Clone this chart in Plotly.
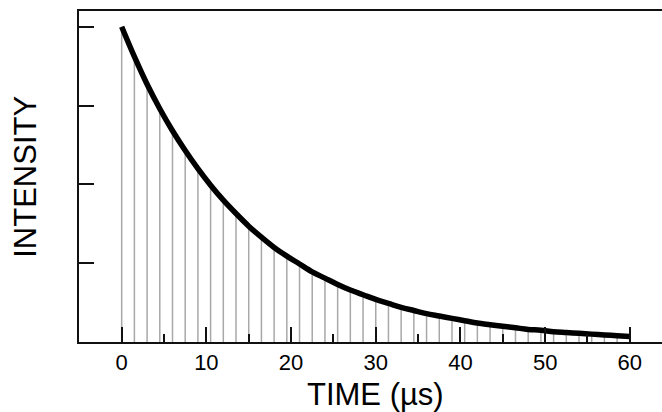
import plotly.graph_objects as go

# Sample times (µs) and intensities
time_us = [0, 1.5, 3, 4.5, 6, 7.5, 9, 10.5, 12, 13.5, 15, 16.5, 18, 19.5, 21, 22.5,
           24, 25.5, 27, 28.5, 30, 31.5, 33, 34.5, 36, 37.5, 39, 40.5, 42, 43.5, 45,
           46.5, 48, 49.5, 51, 52.5, 54, 55.5, 57, 58.5, 60]
intensity = [4.00, 3.62, 3.27, 2.96, 2.68, 2.43, 2.20, 1.99, 1.80, 1.63, 1.47, 1.33,
             1.20, 1.09, 0.99, 0.89, 0.81, 0.73, 0.66, 0.60, 0.54, 0.49, 0.44, 0.40,
             0.36, 0.33, 0.30, 0.27, 0.24, 0.22, 0.20, 0.18, 0.16, 0.15, 0.13, 0.12,
             0.11, 0.10, 0.09, 0.08, 0.07]
x_ticks = [0, 10, 20, 30, 40, 50, 60]
y_ticks = [1, 2, 3, 4]

FONT = "Liberation Sans, Arial, Helvetica, sans-serif"

stem_x, stem_y = [], []
for t, v in zip(time_us, intensity):
    stem_x += [t, t, None]
    stem_y += [0, v, None]

fig = go.Figure()
fig.add_trace(go.Scatter(x=stem_x, y=stem_y, mode="lines",
                         line=dict(color="#a8a8a8", width=1.5),
                         hoverinfo="skip", showlegend=False))
fig.add_trace(go.Scatter(x=time_us, y=intensity, mode="lines",
                         line=dict(color="black", width=5.5, shape="spline"),
                         showlegend=False))

fig.update_layout(
    width=662, height=412,
    margin=dict(l=79, r=0, t=11, b=70),
    paper_bgcolor="white", plot_bgcolor="white",
    font=dict(family=FONT, color="black"),
    xaxis=dict(range=[-5.04, 63.8], tickvals=x_ticks, ticks="inside", ticklen=15,
               tickwidth=1.5, tickcolor="#111", showline=True, linecolor="#111",
               linewidth=2, mirror=True, showgrid=False, zeroline=False,
               tickfont=dict(size=22, family=FONT),
               minor=dict(ticks="inside", ticklen=8, dtick=5, tick0=0,
                          tickcolor="#111", tickwidth=1.5, showgrid=False)),
    yaxis=dict(range=[0, 4.2], tickvals=y_ticks, ticks="inside", ticklen=15,
               tickwidth=1.5, tickcolor="#111", showticklabels=False,
               showline=True, linecolor="#111", linewidth=2, showgrid=False,
               zeroline=False),
    annotations=[
        dict(text="TIME (µs)", xref="paper", yref="paper", x=(375.8 - 79) / 583,
             y=-(394 - 341.7) / 330.7, xanchor="center", yanchor="middle",
             showarrow=False, font=dict(size=31, family=FONT)),
        dict(text="INTENSITY", xref="paper", yref="paper", x=-(79 - 25.3) / 583,
             y=0.5, xanchor="center", yanchor="middle", textangle=-90,
             showarrow=False, font=dict(size=31, family=FONT)),
    ],
)

fig.write_html("out.html")
